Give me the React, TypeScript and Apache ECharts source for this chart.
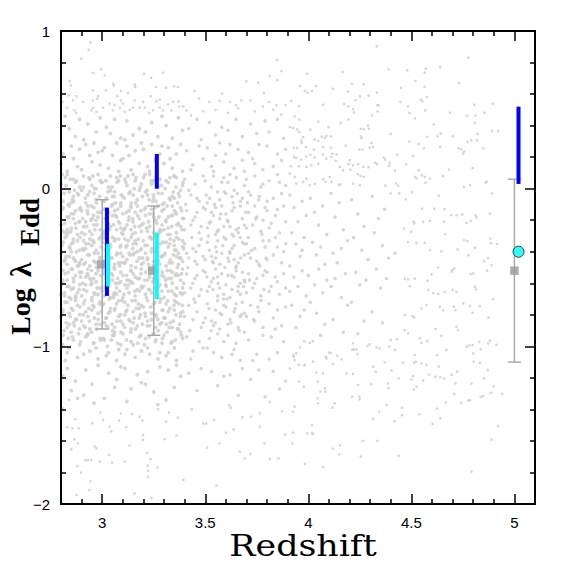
import React, { useEffect, useRef } from "react";
import * as echarts from "echarts";

// ---------- axis ticks ----------
const xMajorTicks = [3, 3.5, 4, 4.5, 5];
const xTickLabels = ["3", "3.5", "4", "4.5", "5"];
const yMajorTicks = [-2, -1, 0, 1];
const yTickLabels = ["\u22122", "\u22121", "0", "1"];

// ---------- gray cloud (redshift, log lambda_Edd) ----------
const cloudUpperLeft = [
  [2.943,.928],[2.934,.881],[2.90,.824],[2.994,.757],[2.955,.734],[3.012,.719],[3.203,.729],[3.295,.736],[3.237,.702],
  [3.847,.816],[3.87,.746],[3.813,.715],[3.85,.687],[3.70,.681],[3.757,.672],[2.842,.683],[2.847,.655],[3.053,.666],
  [3.057,.655],[3.158,.66],[3.16,.645],[3.261,.645],[3.31,.64],[3.349,.649],[3.368,.645],[3.447,.62],[2.955,.624],
  [3.019,.624],[3.091,.62],[3.125,.607],[2.836,.592],[2.875,.586],[2.98,.586],[3.072,.586],[3.234,.586],[3.47,.571],
  [3.582,.603],[3.784,.607],[2.807,.55],[2.858,.56],[2.907,.55],[2.955,.56],[2.975,.57],[3.036,.54],[3.06,.53],
  [3.09,.56],[3.10,.54],[3.157,.56],[3.198,.55],[3.263,.555],[3.279,.565],[3.32,.535],[3.345,.55],[3.37,.553],
  [3.52,.55],[3.57,.556],[3.62,.55],[3.65,.53],[3.675,.56],[3.72,.56],[3.78,.52],[3.81,.55],[3.845,.53],[3.89,.53],
  [2.83,.514],[2.866,.497],[2.874,.48],[2.947,.497],[2.955,.512],[2.972,.487],[3.004,.514],[3.052,.497],[3.085,.514],
  [3.109,.487],[3.134,.50],[3.15,.514],[3.182,.514],[3.206,.514],[3.228,.48],[3.247,.497],[3.279,.514],[3.295,.497],
  [3.336,.497],[3.373,.522],[3.393,.522],[3.409,.497],[3.431,.464],[3.49,.49],[3.55,.5],[3.61,.48],[3.66,.51],
  [3.74,.49],[3.83,.5],[3.87,.47]
];

const cloudLowerLeft = [
  [2.829,-1.513],[2.866,-1.59],[2.85,-1.653],[2.883,-1.615],[2.879,-1.758],[2.897,-1.801],[2.875,-1.942],[2.918,-1.722],
  [2.931,-1.722],[2.947,-1.72],[2.943,-1.856],[2.938,-1.911],[2.964,-1.636],[2.972,-1.647],[2.988,-1.731],[3.032,-1.689],
  [3.048,-1.737],[3.109,-1.731],[3.133,-1.628],[3.156,-1.932],[3.198,-1.562],[3.198,-1.594],[3.218,-1.678],[3.234,-1.716],
  [3.22,-1.756],[3.222,-1.788],[3.222,-1.828],[3.268,-1.769],[3.24,-1.963],[3.303,-1.589],[3.36,-1.566],[3.394,-1.847],
  [3.509,-1.642],[3.554,-1.883],[3.569,-1.615],[3.60,-1.547],[3.638,-1.526],[3.667,-1.668],[3.692,-1.71],[3.719,-1.682],
  [3.764,-1.509],[3.787,-1.615],[3.813,-1.714],[3.855,-1.71],[3.888,-1.558],[3.873,-1.412],[3.49,-1.49],[3.505,-1.49],
  [3.543,-1.467],[3.68,-1.45],[3.722,-1.446],[3.616,-1.374],[3.624,-1.389],[3.764,-1.425],[3.813,-1.353],[2.839,-1.34],
  [2.81,-1.393],[2.87,-1.463],[2.855,-1.52],[2.887,-1.52],[2.952,-1.488],[2.991,-1.42],[3.004,-1.467],[3.036,-1.51],
  [3.044,-1.54],[3.082,-1.471],[3.09,-1.425],[3.117,-1.513],[3.145,-1.429],[3.182,-1.446],[3.195,-1.471],[3.271,-1.399],
  [3.309,-1.478],[3.324,-1.42],[3.368,-1.452],[3.434,-1.399]
];

const cloudUpperRight = [
  [4.332,.903],[4.777,.831],[4.166,.74],[3.994,.729],[4.389,.757],[4.48,.751],[4.565,.736],[4.57,.761],[4.64,.77],
  [4.52,.683],[4.211,.666],[4.268,.662],[3.959,.651],[4.038,.651],[4.119,.634],[3.983,.62],[3.996,.609],[4.018,.62],
  [4.193,.617],[4.332,.609],[4.449,.639],[4.564,.645],[4.732,.67],[4.251,.586],[4.293,.59],[4.229,.56],[4.447,.55],
  [4.546,.565],[4.554,.554],[4.575,.581],[3.918,.556],[3.954,.524],[4.174,.537],[4.195,.522],[4.334,.529],[4.342,.529],
  [4.484,.522],[4.805,.533],[4.895,.539],[4.072,.533],[4.217,.505],[4.222,.484],[4.337,.49],[4.567,.497],[4.491,.48],
  [4.688,.482],[4.771,.463],[4.811,.463],[4.855,.482],[3.934,.459],[3.957,.438],[4.048,.425],[4.098,.391],[4.156,.417],
  [4.195,.438],[4.31,.465],[4.518,.446],[4.808,.417],[4.609,.406],[3.91,.39],[3.926,.385],[3.946,.376],[3.955,.36],
  [4.01,.374],[4.255,.38],[4.27,.378],[4.29,.4],[4.294,.38],[4.40,.347],[4.643,.349],[4.627,.332],[4.701,.332],
  [4.821,.347],[4.891,.366],[4.921,.366],[4.577,.328],[3.975,.327],[3.967,.306],[3.968,.29],[4.031,.311],[4.048,.303],
  [4.064,.33],[4.08,.322],[4.088,.334],[4.109,.332],[4.255,.332],[4.258,.322],[4.263,.248],[4.248,.248],[4.306,.29],
  [4.315,.265],[4.298,.26],[4.182,.273],[4.491,.298],[4.536,.284],[4.56,.256],[4.641,.265],[4.73,.256],[4.743,.25],
  [4.751,.222],[4.756,.235],[4.772,.296],[4.79,.307],[4.819,.307],[4.849,.256],[3.929,.26],[3.946,.258],[3.988,.265],
  [4.028,.248],[4.072,.265],[4.109,.26],[3.942,.195],[3.931,.2],[3.965,.184],[3.991,.205],[4.01,.214],[4.031,.197],
  [4.072,.218],[4.088,.191],[4.112,.201],[4.117,.222],[4.137,.218],[4.133,.176],[4.201,.18],[4.196,.155],[4.217,.148],
  [4.242,.155],[4.266,.138],[4.292,.136],[4.324,.165],[4.334,.155],[4.366,.197],[4.373,.184],[4.431,.216],[4.395,.163],
  [4.392,.144],[4.475,.155],[4.509,.206],[4.683,.121],[4.797,.13],[4.421,.115],[4.535,.117],[3.915,.142],[3.954,.142],
  [3.991,.138],[4.015,.148],[4.048,.159],[4.153,.138],[4.169,.117],[4.205,.121],[4.24,.092],[4.253,.081],[4.269,.075],
  [4.517,.075],[4.525,.066],[4.551,.085],[4.565,.075],[4.59,.064],[4.654,.079],[4.865,.043],[4.785,.022],[4.755,.011],
  [3.91,.096],[3.934,.075],[3.942,.032],[3.975,.043],[3.991,.064],[4.007,.022],[4.031,.032],[4.072,.06],[4.083,.043],
  [4.112,.043],[4.104,.075],[4.156,.026],[4.149,.026],[4.217,.032],[4.25,.022],[4.374,.02],[4.425,.034],[4.436,.02]
];

const cloudMidRight = [
  [4.569,.039],[4.861,.039],[4.892,-.03],[4.504,-.022],[4.633,-.045],[4.399,-.03],[4.441,-.03],[4.473,-.068],
  [4.552,-.126],[4.611,-.126],[4.661,-.13],[4.693,-.168],[4.719,-.168],[4.747,-.164],[4.811,-.17],[4.816,-.183],
  [4.881,-.157],[4.512,-.21],[4.514,-.221],[4.557,-.21],[4.59,-.204],[4.659,-.21],[4.768,-.217],[4.789,-.204],
  [4.465,-.254],[4.50,-.273],[4.664,-.288],[4.756,-.326],[4.772,-.333],[4.884,-.316],[4.886,-.347],[4.916,-.352],
  [4.808,-.375],[4.484,-.339],[4.525,-.343],[4.565,-.343],[4.59,-.39],[4.646,-.398],[4.724,-.385],[4.777,-.423],
  [4.873,-.44],[4.853,-.46],[4.70,-.516],[4.695,-.527],[4.708,-.506],[4.63,-.499],[4.80,-.537],[4.787,-.542],
  [4.889,-.485],[4.868,-.52],[4.578,-.584],[4.598,-.544],[4.517,-.571],[4.468,-.571],[4.484,-.575],[4.493,-.618],
  [4.808,-.622],[4.813,-.639],[4.70,-.643],[4.719,-.654],[4.582,-.643],[4.606,-.664],[4.63,-.668],[4.662,-.654],
  [4.897,-.702],[4.752,-.728],[4.784,-.745],[4.832,-.745],[4.706,-.749],[4.714,-.77],[4.797,-.787],[4.638,-.749],
  [4.654,-.77],[4.573,-.738],[4.549,-.759],[4.468,-.802],[4.505,-.808],[4.514,-.816],[4.874,-.818],[4.617,-.89],
  [4.719,-.876],[4.727,-.897],[4.646,-.932],[4.781,-.994],[4.797,-.992],[4.468,-.897],[4.484,-.918],[4.40,-.96],
  [4.43,-.956],[4.541,-.949],[4.549,-.977],[4.873,-.981],[4.913,-.99]
];

const cloudLowerRight = [
  [3.926,-1.414],[3.934,-1.383],[3.926,-1.547],[3.923,-1.615],[3.983,-1.746],[3.994,-1.552],[4.018,-1.552],[4.023,-1.555],
  [4.018,-1.499],[4.072,-1.765],[4.12,-1.649],[4.153,-1.628],[4.15,-1.685],[4.255,-1.699],[4.266,-1.6],[4.334,-1.6],
  [4.315,-1.461],[4.344,-1.414],[4.379,-1.372],[4.418,-1.475],[4.438,-1.693],[4.455,-1.389],[4.455,-1.437],[4.538,-1.431],
  [4.603,-1.492],[4.625,-1.395],[4.64,-1.456],[4.667,-1.357],[4.792,-1.794],[4.889,-1.592],[4.921,-1.505],[4.887,-1.294],
  [4.90,-1.254],[4.941,-1.302],[4.836,-1.32],[4.849,-1.315],[4.776,-1.345],[4.784,-1.34],[4.742,-1.357],[4.709,-1.302],
  [4.714,-1.235],[4.696,-1.18],[4.722,-1.161],[4.792,-1.237],[4.852,-1.203],[4.871,-1.15],[4.80,-1.044],[4.802,-1.097],
  [4.832,-1.104],[4.768,-1.002],[4.829,-.973],[4.881,-.964],[4.836,-1.019],[4.66,-1.203],[4.64,-1.197],[4.617,-1.193],
  [4.625,-1.057],[4.633,-1.129],[4.67,-1.023],[4.578,-.968],[4.586,-1.178],[4.557,-1.218],[4.525,-1.256],[4.512,-1.273],
  [4.50,-1.21],[4.509,-1.19],[4.517,-1.055],[4.514,-1.104],[4.522,-1.097],[4.549,-1.108],[4.573,-1.118],[4.46,-1.104],
  [4.438,-1.203],[4.387,-1.235],[4.389,-1.266],[4.404,-1.154],[4.371,-1.101],[4.327,-1.161],[4.315,-1.129],[4.305,-1.241],
  [4.347,-1.013],[4.331,-1.007],[4.392,-1.0],[4.42,-1.023],[4.298,-.987],[4.287,-.998],[4.242,-1.245],[4.248,-1.319],
  [4.249,-1.336],[4.213,-1.319],[4.217,-1.175],[4.185,-1.171],[4.234,-1.02],[4.238,-1.05],[4.222,-1.019],[4.214,-1.021],
  [4.217,-.981],[4.161,-1.083],[4.14,-1.059],[4.12,-1.112],[4.117,-1.389],[4.128,-1.361],[4.101,-1.04],[4.109,-1.043],
  [4.085,-1.066],[4.088,-1.076],[4.072,-1.171],[4.08,-1.266],[4.083,-1.287],[4.059,-1.287],[4.044,-1.33],[4.048,-1.361],
  [4.039,-1.167],[4.046,-1.224],[4.023,-1.097],[3.983,-1.118],[3.978,-1.256],[3.955,-1.224],[3.926,-1.055],[3.934,-1.087],
  [3.954,-1.118],[3.98,-1.121],[3.91,-1.14],[3.981,-.968],[4.007,-.977],[4.023,-.968],[3.959,-1.006],[3.942,-1.044],[3.929,-1.065]
];

const cloudStrip28 = [
  [2.82,.46],[2.87,.33],[2.84,.38],[2.89,.44],
  [2.81,.22],[2.85,.27],[2.88,.14],[2.83,.11],[2.86,.19],[2.89,.25],[2.80,.16],
  [2.82,.07],[2.84,-.02],[2.87,.04],[2.81,-.08],[2.86,-.05],[2.89,.01],[2.83,.09],[2.85,-.09],[2.88,-.03],[2.80,.03],[2.86,.06],
  [2.81,-.12],[2.83,-.18],[2.85,-.25],[2.87,-.14],[2.89,-.21],[2.82,-.28],[2.84,-.11],[2.86,-.19],[2.88,-.29],[2.80,-.23],[2.85,-.16],[2.83,-.26],[2.87,-.22],[2.89,-.13],[2.81,-.27],
  [2.82,-.31],[2.84,-.37],[2.86,-.44],[2.88,-.33],[2.80,-.41],[2.83,-.48],[2.85,-.35],[2.87,-.46],[2.89,-.39],[2.81,-.34],[2.84,-.43],[2.86,-.32],[2.88,-.49],[2.82,-.45],[2.85,-.40],[2.89,-.47],
  [2.81,-.52],[2.83,-.58],[2.85,-.64],[2.87,-.55],[2.89,-.61],[2.80,-.67],[2.82,-.54],[2.84,-.69],[2.86,-.57],[2.88,-.66],[2.83,-.62],[2.85,-.51],[2.87,-.68],[2.89,-.53],[2.81,-.60],[2.86,-.63],
  [2.82,-.72],[2.84,-.79],[2.86,-.85],[2.88,-.74],[2.80,-.81],[2.83,-.88],[2.85,-.76],[2.87,-.83],[2.89,-.89],[2.81,-.77],[2.84,-.86],[2.87,-.71],[2.89,-.80],
  [2.81,-.93],[2.84,-1.01],[2.86,-.96],[2.88,-1.07],[2.83,-1.04],[2.85,-.91],[2.89,-.99],[2.82,-1.09],
  [2.83,-1.14],[2.87,-1.22],[2.85,-1.28],[2.81,-1.19],[2.88,-1.33],
  [2.805,.09],[2.845,.06],[2.875,.05],[2.825,.02],[2.865,-.01],[2.815,-.03],[2.885,-.04],[2.855,-.07],[2.835,-.10],[2.895,-.12],
  [2.808,-.13],[2.862,-.16],[2.838,-.18],[2.888,-.21],[2.818,-.22],[2.872,-.25],[2.848,-.27],[2.828,-.30],[2.892,-.31],[2.858,-.34],
  [2.805,-.36],[2.845,-.38],[2.875,-.40],[2.825,-.43],[2.865,-.45],[2.815,-.46],[2.885,-.49],[2.855,-.51],[2.835,-.53],[2.895,-.56],
  [2.808,-.58],[2.862,-.59],[2.838,-.62],[2.888,-.64],[2.818,-.66],[2.872,-.69],[2.848,-.70],[2.828,-.72],[2.892,-.75],[2.858,-.77],
  [2.805,-.79],[2.845,-.81],[2.875,-.83],[2.825,-.85],[2.865,-.87],[2.815,-.90],[2.885,-.92],[2.855,-.94],[2.835,-.95],[2.895,-.97],
  [2.808,-.99],[2.862,-.08],[2.838,-.28],[2.888,-.48],[2.818,-.68]
];

const cloudStrip29 = [
  [2.93,.41],[2.97,.36],[2.91,.31],[2.99,.45],
  [2.92,.28],[2.95,.17],[2.98,.23],[2.90,.12],[2.94,.21],[2.96,.29],[2.99,.15],
  [2.91,.08],[2.93,-.04],[2.95,.02],[2.97,-.07],[2.99,.05],[2.90,-.01],[2.92,-.09],[2.94,.06],[2.96,-.03],[2.98,.09],[2.97,.00],
  [2.90,-.14],[2.92,-.21],[2.94,-.27],[2.96,-.12],[2.98,-.18],[2.91,-.24],[2.93,-.16],[2.95,-.29],[2.97,-.20],[2.99,-.26],[2.90,-.28],[2.93,-.11],[2.96,-.23],[2.98,-.15],[2.95,-.19],
  [2.91,-.33],[2.93,-.42],[2.95,-.36],[2.97,-.47],[2.99,-.31],[2.90,-.45],[2.92,-.38],[2.94,-.49],[2.96,-.34],[2.98,-.41],[2.91,-.48],[2.94,-.32],[2.97,-.39],[2.99,-.44],[2.92,-.35],[2.96,-.46],
  [2.90,-.53],[2.92,-.61],[2.94,-.57],[2.96,-.66],[2.98,-.52],[2.91,-.64],[2.93,-.55],[2.95,-.69],[2.97,-.59],[2.99,-.63],[2.90,-.68],[2.93,-.51],[2.95,-.60],[2.98,-.67],[2.92,-.56],[2.97,-.54],
  [2.91,-.73],[2.93,-.81],[2.95,-.77],[2.97,-.86],[2.99,-.72],[2.90,-.84],[2.92,-.78],[2.94,-.89],[2.96,-.75],[2.98,-.83],[2.91,-.87],[2.95,-.71],[2.98,-.79],
  [2.92,-.94],[2.94,-1.03],[2.96,-.98],[2.98,-1.08],[2.91,-1.05],[2.93,-.92],[2.97,-1.01],[2.99,-.95],
  [2.92,-1.15],[2.95,-1.24],[2.98,-1.12],[2.91,-1.31],[2.96,-1.36],
  [2.955,.08],[2.935,.07],[2.995,.04],[2.908,.01],[2.962,.00],[2.938,-.02],[2.988,-.05],[2.918,-.06],[2.972,-.09],[2.948,-.11],
  [2.928,-.14],[2.992,-.15],[2.958,-.17],[2.905,-.19],[2.945,-.20],[2.975,-.23],[2.925,-.24],[2.965,-.26],[2.915,-.29],[2.985,-.32],
  [2.955,-.33],[2.935,-.35],[2.995,-.37],[2.908,-.39],[2.962,-.41],[2.938,-.42],[2.988,-.44],[2.918,-.47],[2.972,-.50],[2.948,-.52],
  [2.928,-.54],[2.992,-.55],[2.958,-.57],[2.905,-.60],[2.945,-.61],[2.975,-.63],[2.925,-.65],[2.965,-.67],[2.915,-.71],[2.985,-.73],
  [2.955,-.74],[2.935,-.76],[2.995,-.78],[2.908,-.80],[2.962,-.82],[2.938,-.84],[2.988,-.86],[2.918,-.88],[2.972,-.89],[2.948,-.91],
  [2.928,-.93],[2.992,-.96],[2.958,-.98],[2.905,-.38],[2.945,-.58]
];

const cloudStrip30 = [
  [3.02,.39],[3.06,.44],[3.09,.32],[3.04,.35],
  [3.01,.26],[3.03,.13],[3.05,.21],[3.07,.29],[3.09,.18],[3.00,.24],[3.08,.11],
  [3.00,.04],[3.02,-.06],[3.04,.08],[3.06,-.02],[3.08,.05],[3.01,-.08],[3.03,.01],[3.05,-.05],[3.07,.07],[3.09,-.09],[3.04,-.01],
  [3.01,-.13],[3.03,-.22],[3.05,-.17],[3.07,-.26],[3.09,-.11],[3.00,-.29],[3.02,-.19],[3.04,-.24],[3.06,-.14],[3.08,-.21],[3.01,-.27],[3.05,-.10],[3.07,-.18],[3.09,-.25],[3.03,-.15],
  [3.00,-.34],[3.02,-.43],[3.04,-.37],[3.06,-.48],[3.08,-.32],[3.01,-.46],[3.03,-.39],[3.05,-.31],[3.07,-.42],[3.09,-.36],[3.00,-.49],[3.04,-.44],[3.06,-.33],[3.08,-.47],[3.02,-.35],[3.09,-.41],
  [3.01,-.54],[3.03,-.62],[3.05,-.58],[3.07,-.67],[3.09,-.53],[3.00,-.65],[3.02,-.57],[3.04,-.69],[3.06,-.51],[3.08,-.60],[3.01,-.68],[3.05,-.55],[3.07,-.63],[3.09,-.59],[3.03,-.52],[3.06,-.66],
  [3.00,-.74],[3.02,-.82],[3.04,-.76],[3.06,-.88],[3.08,-.71],[3.01,-.85],[3.03,-.79],[3.05,-.90],[3.07,-.73],[3.09,-.84],[3.02,-.87],[3.06,-.77],[3.08,-.81],
  [3.01,-.96],[3.03,-1.04],[3.05,-.93],[3.07,-1.09],[3.09,-.99],[3.02,-1.06],[3.06,-.91],[3.08,-1.02],
  [3.03,-1.17],[3.06,-1.26],[3.09,-1.13],[3.01,-1.33],[3.07,-1.21],
  [3.088,.08],[3.018,.05],[3.072,.04],[3.048,.01],[3.028,-.02],[3.092,-.04],[3.058,-.05],[3.005,-.08],[3.045,-.11],[3.075,-.13],
  [3.025,-.14],[3.065,-.17],[3.015,-.19],[3.085,-.22],[3.055,-.23],[3.035,-.26],[3.095,-.28],[3.008,-.31],[3.062,-.32],[3.038,-.35],
  [3.088,-.37],[3.018,-.39],[3.072,-.41],[3.048,-.44],[3.028,-.46],[3.092,-.47],[3.058,-.50],[3.005,-.52],[3.045,-.54],[3.075,-.57],
  [3.025,-.59],[3.065,-.60],[3.015,-.63],[3.085,-.65],[3.055,-.67],[3.035,-.70],[3.095,-.71],[3.008,-.73],[3.062,-.76],[3.038,-.78],
  [3.088,-.80],[3.018,-.82],[3.072,-.84],[3.048,-.86],[3.028,-.88],[3.092,-.91],[3.058,-.93],[3.005,-.95],[3.045,-.96],[3.075,-.98],
  [3.025,-1.0],[3.065,-.09],[3.015,-.29],[3.085,-.49],[3.055,-.69]
];

const cloudStrip31 = [
  [3.12,.43],[3.15,.34],[3.18,.38],[3.11,.31],
  [3.10,.19],[3.12,.27],[3.14,.12],[3.16,.24],[3.18,.16],[3.19,.29],[3.13,.21],
  [3.11,.06],[3.13,-.03],[3.15,.09],[3.17,-.07],[3.19,.03],[3.10,-.05],[3.12,.02],[3.14,-.09],[3.16,.05],[3.18,-.01],[3.15,-.04],
  [3.10,-.16],[3.12,-.23],[3.14,-.12],[3.16,-.28],[3.18,-.19],[3.11,-.25],[3.13,-.14],[3.15,-.21],[3.17,-.11],[3.19,-.27],[3.10,-.29],[3.13,-.18],[3.16,-.15],[3.18,-.24],[3.14,-.26],
  [3.11,-.32],[3.13,-.41],[3.15,-.35],[3.17,-.46],[3.19,-.38],[3.10,-.43],[3.12,-.36],[3.14,-.49],[3.16,-.33],[3.18,-.44],[3.11,-.47],[3.14,-.31],[3.17,-.40],[3.19,-.48],[3.12,-.45],[3.15,-.42],
  [3.10,-.55],[3.12,-.63],[3.14,-.52],[3.16,-.68],[3.18,-.57],[3.11,-.61],[3.13,-.66],[3.15,-.54],[3.17,-.64],[3.19,-.51],[3.10,-.69],[3.14,-.59],[3.16,-.56],[3.18,-.65],[3.12,-.58],[3.19,-.62],
  [3.11,-.72],[3.13,-.83],[3.15,-.78],[3.17,-.87],[3.19,-.74],[3.10,-.86],[3.12,-.77],[3.14,-.89],[3.16,-.71],[3.18,-.82],[3.11,-.80],[3.15,-.85],[3.18,-.76],
  [3.10,-.92],[3.12,-1.02],[3.14,-.97],[3.16,-1.07],[3.18,-.94],[3.11,-1.05],[3.15,-.99],[3.19,-1.03],
  [3.11,-1.14],[3.14,-1.27],[3.17,-1.18],[3.12,-1.35],[3.19,-1.23],
  [3.125,.08],[3.165,.07],[3.115,.04],[3.185,.01],[3.155,.00],[3.135,-.02],[3.195,-.05],[3.108,-.06],[3.162,-.09],[3.138,-.11],
  [3.188,-.14],[3.118,-.15],[3.172,-.17],[3.148,-.19],[3.128,-.20],[3.192,-.23],[3.158,-.24],[3.105,-.26],[3.145,-.29],[3.175,-.32],
  [3.125,-.33],[3.165,-.35],[3.115,-.37],[3.185,-.39],[3.155,-.41],[3.135,-.42],[3.195,-.44],[3.108,-.47],[3.162,-.50],[3.138,-.52],
  [3.188,-.54],[3.118,-.55],[3.172,-.57],[3.148,-.60],[3.128,-.61],[3.192,-.63],[3.158,-.65],[3.105,-.67],[3.145,-.71],[3.175,-.73],
  [3.125,-.74],[3.165,-.76],[3.115,-.78],[3.185,-.80],[3.155,-.82],[3.135,-.84],[3.195,-.86],[3.108,-.88],[3.162,-.89],[3.138,-.91],
  [3.188,-.93],[3.118,-.96],[3.172,-.98],[3.148,-.38],[3.128,-.58]
];

const cloudStrip32 = [
  [3.21,.36],[3.24,.42],[3.27,.33],[3.29,.46],
  [3.20,.25],[3.22,.14],[3.24,.28],[3.26,.18],[3.28,.22],[3.23,.11],[3.29,.27],
  [3.20,.07],[3.22,-.04],[3.24,.03],[3.26,-.08],[3.28,.06],[3.21,-.02],[3.23,.09],[3.25,-.06],[3.27,.01],[3.29,-.03],[3.25,.05],
  [3.21,-.12],[3.23,-.24],[3.25,-.18],[3.27,-.29],[3.29,-.14],[3.20,-.22],[3.22,-.27],[3.24,-.13],[3.26,-.20],[3.28,-.26],[3.21,-.17],[3.25,-.28],[3.27,-.11],[3.29,-.23],[3.23,-.16],
  [3.20,-.33],[3.22,-.44],[3.24,-.38],[3.26,-.49],[3.28,-.35],[3.21,-.41],[3.23,-.31],[3.25,-.46],[3.27,-.37],[3.29,-.43],[3.20,-.47],[3.24,-.32],[3.26,-.40],[3.28,-.48],[3.22,-.36],[3.27,-.45],
  [3.21,-.53],[3.23,-.64],[3.25,-.57],[3.27,-.69],[3.29,-.55],[3.20,-.62],[3.22,-.58],[3.24,-.66],[3.26,-.52],[3.28,-.61],[3.21,-.67],[3.25,-.51],[3.27,-.60],[3.29,-.65],[3.23,-.56],[3.26,-.63],
  [3.20,-.75],[3.22,-.84],[3.24,-.79],[3.26,-.88],[3.28,-.72],[3.21,-.81],[3.23,-.87],[3.25,-.73],[3.27,-.83],[3.29,-.77],[3.22,-.71],[3.26,-.80],[3.28,-.86],
  [3.21,-.95],[3.23,-1.05],[3.25,-.92],[3.27,-1.08],[3.29,-.98],[3.22,-1.01],[3.26,-.96],[3.28,-1.04],
  [3.22,-1.16],[3.25,-1.29],[3.28,-1.13],[3.21,-1.24],[3.27,-1.37],
  [3.208,.09],[3.262,.06],[3.238,.05],[3.288,.02],[3.218,-.01],[3.272,-.03],[3.248,-.04],[3.228,-.07],[3.292,-.10],[3.258,-.12],
  [3.205,-.13],[3.245,-.16],[3.275,-.18],[3.225,-.21],[3.265,-.22],[3.215,-.25],[3.285,-.27],[3.255,-.30],[3.235,-.31],[3.295,-.34],
  [3.208,-.36],[3.262,-.38],[3.238,-.40],[3.288,-.43],[3.218,-.45],[3.272,-.46],[3.248,-.49],[3.228,-.51],[3.292,-.53],[3.258,-.56],
  [3.205,-.58],[3.245,-.59],[3.275,-.62],[3.225,-.64],[3.265,-.66],[3.215,-.69],[3.285,-.70],[3.255,-.72],[3.235,-.75],[3.295,-.77],
  [3.208,-.79],[3.262,-.81],[3.238,-.83],[3.288,-.85],[3.218,-.87],[3.272,-.90],[3.248,-.92],[3.228,-.94],[3.292,-.95],[3.258,-.97],
  [3.205,-.99],[3.245,-.08],[3.275,-.28],[3.225,-.48],[3.265,-.68]
];

const cloudStrip33 = [
  [3.31,.40],[3.34,.32],[3.37,.45],[3.39,.37],
  [3.30,.16],[3.32,.26],[3.34,.13],[3.36,.22],[3.38,.28],[3.33,.19],[3.39,.11],
  [3.31,.05],[3.33,-.07],[3.35,.08],[3.37,-.03],[3.39,.02],[3.30,-.09],[3.32,.04],[3.34,-.05],[3.36,.07],[3.38,-.01],[3.35,-.06],
  [3.30,-.13],[3.32,-.25],[3.34,-.17],[3.36,-.28],[3.38,-.12],[3.31,-.21],[3.33,-.29],[3.35,-.14],[3.37,-.22],[3.39,-.19],[3.30,-.26],[3.34,-.11],[3.36,-.16],[3.38,-.24],[3.32,-.18],
  [3.31,-.34],[3.33,-.45],[3.35,-.39],[3.37,-.48],[3.39,-.33],[3.30,-.42],[3.32,-.37],[3.34,-.47],[3.36,-.31],[3.38,-.44],[3.31,-.49],[3.35,-.36],[3.37,-.41],[3.39,-.46],[3.33,-.32],[3.36,-.43],
  [3.30,-.56],[3.32,-.65],[3.34,-.53],[3.36,-.68],[3.38,-.58],[3.31,-.62],[3.33,-.52],[3.35,-.67],[3.37,-.55],[3.39,-.63],[3.30,-.69],[3.34,-.60],[3.36,-.54],[3.38,-.66],[3.32,-.57],[3.39,-.51],
  [3.31,-.73],[3.33,-.85],[3.35,-.77],[3.37,-.89],[3.39,-.74],[3.30,-.82],[3.32,-.78],[3.34,-.88],[3.36,-.72],[3.38,-.81],[3.31,-.86],[3.35,-.71],[3.38,-.79],
  [3.30,-.93],[3.32,-1.04],[3.34,-.97],[3.36,-1.09],[3.38,-.91],[3.31,-1.06],[3.35,-1.01],[3.39,-.95],
  [3.32,-1.15],[3.35,-1.26],[3.38,-1.19],[3.31,-1.34],[3.36,-1.12],
  [3.348,.08],[3.328,.07],[3.392,.04],[3.358,.01],[3.305,.00],[3.345,-.02],[3.375,-.05],[3.325,-.06],[3.365,-.09],[3.315,-.11],
  [3.385,-.14],[3.355,-.15],[3.335,-.17],[3.395,-.19],[3.308,-.20],[3.362,-.23],[3.338,-.24],[3.388,-.26],[3.318,-.29],[3.372,-.32],
  [3.348,-.33],[3.328,-.35],[3.392,-.37],[3.358,-.39],[3.305,-.41],[3.345,-.42],[3.375,-.44],[3.325,-.47],[3.365,-.50],[3.315,-.52],
  [3.385,-.54],[3.355,-.55],[3.335,-.57],[3.395,-.60],[3.308,-.61],[3.362,-.63],[3.338,-.65],[3.388,-.67],[3.318,-.71],[3.372,-.73],
  [3.348,-.74],[3.328,-.76],[3.392,-.78],[3.358,-.80],[3.305,-.82],[3.345,-.84],[3.375,-.86],[3.325,-.88],[3.365,-.89],[3.315,-.91],
  [3.385,-.93],[3.355,-.96],[3.335,-.98],[3.395,-.38],[3.308,-.58]
];

const cloudStrip34 = [
  [3.42,.38],[3.46,.44],[3.48,.31],
  [3.41,.24],[3.44,.15],[3.47,.27],[3.49,.19],[3.43,.12],
  [3.40,.06],[3.43,-.04],[3.45,.03],[3.47,-.08],[3.49,.08],[3.42,-.01],[3.46,-.06],
  [3.41,-.14],[3.43,-.23],[3.45,-.18],[3.47,-.28],[3.49,-.12],[3.40,-.26],[3.44,-.20],[3.46,-.15],[3.48,-.24],
  [3.40,-.35],[3.42,-.44],[3.44,-.38],[3.46,-.48],[3.48,-.32],[3.41,-.41],[3.45,-.46],[3.47,-.36],[3.49,-.43],
  [3.41,-.54],[3.43,-.63],[3.45,-.57],[3.47,-.68],[3.49,-.52],[3.40,-.66],[3.44,-.60],[3.46,-.55],[3.48,-.64],
  [3.42,-.74],[3.44,-.83],[3.46,-.78],[3.48,-.88],[3.40,-.81],[3.45,-.72],[3.49,-.85],
  [3.41,-.94],[3.44,-1.03],[3.47,-.97],[3.43,-1.08],[3.49,-1.01],
  [3.42,-1.17],[3.46,-1.28],[3.48,-1.14],
  [3.405,-.10],[3.435,-.31],[3.415,-.50],[3.445,-.70],[3.425,-.90],[3.455,-.40]
];

const cloudStrip35 = [
  [3.52,.42],[3.55,.34],[3.58,.39],
  [3.51,.26],[3.53,.14],[3.55,.21],[3.57,.29],[3.59,.17],[3.54,.11],
  [3.50,.05],[3.52,-.06],[3.54,.08],[3.56,-.02],[3.58,.04],[3.51,-.09],[3.53,.01],[3.57,-.07],[3.59,.07],
  [3.50,-.13],[3.52,-.22],[3.54,-.17],[3.56,-.27],[3.58,-.11],[3.51,-.25],[3.53,-.15],[3.55,-.29],[3.57,-.19],[3.59,-.24],[3.55,-.12],
  [3.51,-.34],[3.53,-.43],[3.55,-.37],[3.57,-.48],[3.59,-.31],[3.50,-.45],[3.52,-.39],[3.54,-.47],[3.56,-.33],[3.58,-.41],[3.55,-.44],
  [3.50,-.53],[3.52,-.62],[3.54,-.57],[3.56,-.68],[3.58,-.54],[3.51,-.65],[3.53,-.59],[3.55,-.51],[3.57,-.63],[3.59,-.67],[3.56,-.56],
  [3.51,-.73],[3.53,-.84],[3.55,-.77],[3.57,-.89],[3.59,-.74],[3.50,-.82],[3.54,-.87],[3.56,-.71],[3.58,-.80],
  [3.52,-.95],[3.54,-1.04],[3.56,-.92],[3.58,-1.07],[3.51,-1.01],[3.59,-.97],
  [3.53,-1.16],[3.56,-1.25],[3.59,-1.19],
  [3.505,-.04],[3.545,-.10],[3.575,-.16],[3.525,-.21],[3.565,-.26],[3.515,-.30],[3.585,-.36],[3.555,-.40],[3.535,-.46],[3.595,-.50],
  [3.508,-.56],[3.562,-.60],[3.538,-.64],[3.588,-.70],[3.518,-.76],[3.572,-.79],[3.548,-.85],[3.528,-.90],[3.592,-.02],[3.558,-.27]
];

const cloudStrip36 = [
  [3.61,.37],[3.65,.44],[3.68,.33],
  [3.60,.22],[3.62,.28],[3.64,.13],[3.66,.25],[3.68,.18],[3.69,.11],
  [3.61,.04],[3.63,-.05],[3.65,.07],[3.67,-.08],[3.69,.02],[3.60,-.03],[3.62,.09],[3.64,-.01],[3.68,-.06],
  [3.60,-.16],[3.62,-.24],[3.64,-.12],[3.66,-.28],[3.68,-.19],[3.61,-.21],[3.63,-.14],[3.65,-.26],[3.67,-.11],[3.69,-.23],[3.63,-.29],
  [3.60,-.32],[3.62,-.41],[3.64,-.36],[3.66,-.47],[3.68,-.34],[3.61,-.44],[3.63,-.38],[3.65,-.49],[3.67,-.31],[3.69,-.42],[3.64,-.45],
  [3.61,-.55],[3.63,-.64],[3.65,-.52],[3.67,-.67],[3.69,-.58],[3.60,-.61],[3.62,-.69],[3.64,-.56],[3.66,-.62],[3.68,-.53],[3.67,-.60],
  [3.60,-.75],[3.62,-.83],[3.64,-.78],[3.66,-.88],[3.68,-.72],[3.61,-.86],[3.65,-.73],[3.67,-.81],[3.69,-.79],
  [3.61,-.93],[3.63,-1.05],[3.65,-.98],[3.67,-1.09],[3.69,-.91],[3.64,-1.02],
  [3.62,-1.18],[3.66,-1.31],[3.68,-1.14],
  [3.655,-.03],[3.635,-.09],[3.695,-.15],[3.608,-.20],[3.662,-.25],[3.638,-.30],[3.688,-.35],[3.618,-.40],[3.672,-.44],[3.648,-.50],
  [3.628,-.55],[3.692,-.59],[3.658,-.65],[3.605,-.70],[3.645,-.76],[3.675,-.80],[3.625,-.85],[3.665,-.90],[3.615,-.46],[3.685,-.62]
];

const cloudStrip37 = [
  [3.72,.41],[3.75,.35],[3.79,.43],
  [3.71,.23],[3.74,.16],[3.76,.28],[3.78,.12],[3.73,.19],
  [3.70,.06],[3.72,-.04],[3.74,.08],[3.76,-.07],[3.78,.03],[3.71,-.02],[3.77,.01],
  [3.71,-.15],[3.73,-.23],[3.75,-.18],[3.77,-.27],[3.79,-.12],[3.70,-.25],[3.74,-.11],[3.78,-.20],
  [3.70,-.35],[3.72,-.44],[3.74,-.38],[3.76,-.48],[3.78,-.33],[3.71,-.41],[3.75,-.46],[3.79,-.37],
  [3.71,-.54],[3.73,-.63],[3.75,-.57],[3.77,-.68],[3.79,-.52],[3.70,-.66],[3.74,-.60],[3.78,-.55],
  [3.72,-.74],[3.74,-.84],[3.76,-.78],[3.78,-.88],[3.70,-.81],[3.77,-.71],
  [3.71,-.96],[3.75,-1.05],[3.78,-.93],[3.73,-1.09],
  [3.72,-1.21],[3.76,-1.15],[3.79,-1.32],
  [3.705,-.09],[3.745,-.19],[3.775,-.29],[3.725,-.39],[3.765,-.49],[3.715,-.58],[3.785,-.64],[3.755,-.75],[3.735,-.83],[3.795,-.44],
  [3.708,-.31],[3.762,-.05]
];

const cloudStrip38 = [
  [3.81,.36],[3.85,.44],[3.88,.32],
  [3.80,.27],[3.83,.14],[3.85,.22],[3.87,.18],[3.89,.25],
  [3.81,.05],[3.83,-.06],[3.85,.09],[3.87,-.03],[3.89,.02],[3.80,-.08],[3.86,.04],
  [3.80,-.14],[3.82,-.22],[3.84,-.17],[3.86,-.28],[3.88,-.11],[3.81,-.25],[3.85,-.13],[3.89,-.21],
  [3.81,-.33],[3.83,-.42],[3.85,-.37],[3.87,-.47],[3.89,-.35],[3.80,-.45],[3.84,-.31],[3.88,-.40],
  [3.80,-.53],[3.82,-.62],[3.84,-.56],[3.86,-.67],[3.88,-.54],[3.81,-.65],[3.85,-.59],[3.89,-.63],
  [3.81,-.73],[3.83,-.82],[3.85,-.77],[3.87,-.87],[3.89,-.75],[3.84,-.89],
  [3.82,-.94],[3.85,-1.04],[3.88,-.97],[3.81,-1.08],
  [3.83,-1.16],[3.86,-1.27],[3.89,-1.22]
];

const cloudStrip39to44 = [
  [3.91,-.04],[3.93,-.12],[3.95,-.21],[3.97,-.08],[3.99,-.17],[3.92,-.28],[3.94,-.35],[3.96,-.43],[3.98,-.31],[3.91,-.49],
  [3.93,-.56],[3.95,-.62],[3.97,-.52],[3.99,-.68],[3.92,-.74],[3.96,-.81],[3.98,-.77],[3.94,-.88],[3.91,-.65],[3.97,-.39],
  [4.01,-.06],[4.03,-.15],[4.05,-.23],[4.07,-.11],[4.09,-.29],[4.02,-.34],[4.04,-.42],[4.06,-.37],[4.08,-.48],[4.00,-.55],
  [4.03,-.61],[4.05,-.51],[4.07,-.66],[4.09,-.58],[4.01,-.72],[4.04,-.79],[4.08,-.86],[4.06,-.93],
  [4.11,-.03],[4.13,-.18],[4.15,-.09],[4.17,-.26],[4.19,-.33],[4.12,-.41],[4.14,-.47],[4.16,-.38],[4.18,-.54],[4.11,-.62],
  [4.13,-.57],[4.16,-.69],[4.19,-.74],[4.12,-.83],[4.17,-.91],
  [4.21,-.07],[4.24,-.16],[4.27,-.24],[4.22,-.31],[4.26,-.39],[4.29,-.45],[4.23,-.53],[4.25,-.61],[4.28,-.58],[4.21,-.72],
  [4.27,-.84],[4.24,-.92],
  [4.31,-.05],[4.34,-.19],[4.37,-.13],[4.32,-.28],[4.36,-.36],[4.39,-.44],[4.33,-.51],[4.35,-.63],[4.38,-.57],[4.31,-.78],
  [4.36,-.85],[4.42,-.41]
];

// ---------- sample measurements ----------
// [redshift, low, high]
const grayErrorBars = [
  [3.0, -0.89, -0.07],
  [3.25, -0.93, -0.11],
  [5.0, -1.10, 0.06],
];
const graySquares = [
  [2.995, -0.48],
  [3.243, -0.52],
  [5.0, -0.52],
];
const blueRanges = [
  [3.023, -0.68, -0.12],
  [3.265, 0.0, 0.22],
  [5.02, 0.03, 0.52],
];
const cyanRanges = [
  [3.028, -0.62, -0.35],
  [3.265, -0.70, -0.28],
];
const cyanPoints = [[5.02, -0.40]];

const cloudSparse = [
  ...cloudUpperLeft, ...cloudLowerLeft, ...cloudUpperRight, ...cloudMidRight, ...cloudLowerRight,
];
const cloudCore = [
  ...cloudStrip28, ...cloudStrip29, ...cloudStrip30, ...cloudStrip31, ...cloudStrip32, ...cloudStrip33,
];
const cloudShoulder = [
  ...cloudStrip34, ...cloudStrip35, ...cloudStrip36, ...cloudStrip37, ...cloudStrip38, ...cloudStrip39to44,
];

const fmtX = (v: number) => {
  const i = xMajorTicks.findIndex((t) => Math.abs(t - v) < 1e-6);
  return i >= 0 ? xTickLabels[i] : "";
};
const fmtY = (v: number) => {
  const i = yMajorTicks.findIndex((t) => Math.abs(t - v) < 1e-6);
  return i >= 0 ? yTickLabels[i] : "";
};

export default function App() {
  const ref = useRef<HTMLDivElement>(null);
  useEffect(() => {
    document.body.style.margin = "0";
    const chart = echarts.init(ref.current as HTMLDivElement, undefined, { renderer: "svg" });

    const lineStyle = { color: "#000", width: 1.5 };
    const xBase = (position: string, showLabel: boolean) => ({
      type: "value",
      position,
      min: 2.8,
      max: 5.1,
      splitNumber: 5,
      splitLine: { show: false },
      axisLine: { show: true, onZero: false, lineStyle: { color: "#000", width: 2 } },
      axisTick: { show: true, inside: true, length: 10, lineStyle },
      minorTick: { show: true, splitNumber: 5, length: 5, lineStyle },
      minorSplitLine: { show: false },
      axisLabel: {
        show: showLabel,
        showMinLabel: false,
        showMaxLabel: false,
        formatter: fmtX,
        color: "#000",
        fontSize: 15,
        fontFamily: "Liberation Sans",
        margin: 11,
      },
      z: 10,
    });
    const yBase = (position: string, showLabel: boolean) => ({
      type: "value",
      position,
      min: -2,
      max: 1,
      interval: 1,
      splitLine: { show: false },
      axisLine: { show: true, onZero: false, lineStyle: { color: "#000", width: 2 } },
      axisTick: { show: true, inside: true, length: 10, lineStyle },
      minorTick: { show: true, splitNumber: 5, length: 5, lineStyle },
      minorSplitLine: { show: false },
      axisLabel: {
        show: showLabel,
        formatter: fmtY,
        color: "#000",
        fontSize: 15,
        fontFamily: "Liberation Sans",
        margin: 11,
      },
      z: 10,
    });

    const rangeBar = (color: string, width: number) => (params: any, api: any) => {
      const x = api.value(0);
      const lo = api.coord([x, api.value(1)]);
      const hi = api.coord([x, api.value(2)]);
      return {
        type: "rect",
        shape: { x: lo[0] - width / 2, y: hi[1], width, height: lo[1] - hi[1] },
        style: { fill: color },
      };
    };

    const dotStyle = { color: "#cccccc" };

    const option: any = {
      animation: false,
      backgroundColor: "#fff",
      grid: { left: 61, right: 30, top: 31, bottom: 61, containLabel: false },
      xAxis: [xBase("bottom", true), xBase("top", false)],
      yAxis: [yBase("left", true), yBase("right", false)],
      series: [
        { type: "scatter", data: cloudSparse, symbol: "circle", symbolSize: 2.7, itemStyle: dotStyle, silent: true, z: 1 },
        { type: "scatter", data: cloudShoulder, symbol: "circle", symbolSize: 3.5, itemStyle: dotStyle, silent: true, z: 1 },
        { type: "scatter", data: cloudCore, symbol: "circle", symbolSize: 3.9, itemStyle: dotStyle, silent: true, z: 1 },
        {
          type: "custom",
          data: grayErrorBars,
          encode: { x: 0, y: [1, 2] },
          silent: true,
          z: 4,
          renderItem: (params: any, api: any) => {
            const x = api.value(0);
            const lo = api.coord([x, api.value(1)]);
            const hi = api.coord([x, api.value(2)]);
            const w = 6.5;
            const st = { stroke: "#aaaaaa", lineWidth: 1.5 };
            return {
              type: "group",
              children: [
                { type: "line", shape: { x1: lo[0], y1: lo[1], x2: hi[0], y2: hi[1] }, style: st },
                { type: "line", shape: { x1: lo[0] - w, y1: lo[1], x2: lo[0] + w, y2: lo[1] }, style: st },
                { type: "line", shape: { x1: hi[0] - w, y1: hi[1], x2: hi[0] + w, y2: hi[1] }, style: st },
              ],
            };
          },
        },
        {
          type: "scatter",
          data: graySquares,
          symbol: "rect",
          symbolSize: 8.5,
          itemStyle: { color: "#999999" },
          silent: true,
          z: 5,
        },
        {
          type: "custom",
          data: blueRanges,
          encode: { x: 0, y: [1, 2] },
          silent: true,
          z: 6,
          renderItem: rangeBar("#0000ff", 4),
        },
        {
          type: "custom",
          data: cyanRanges,
          encode: { x: 0, y: [1, 2] },
          silent: true,
          z: 7,
          renderItem: rangeBar("#00ffff", 4),
        },
        {
          type: "scatter",
          data: cyanPoints,
          symbol: "circle",
          symbolSize: 11,
          itemStyle: { color: "#00ffff", borderColor: "#1a1a1a", borderWidth: 1 },
          silent: true,
          z: 8,
        },
      ],
      graphic: [
        {
          type: "text",
          x: 303,
          y: 546,
          scaleX: 1.2,
          style: {
            text: "Redshift",
            fontSize: 29,
            fontFamily: "DejaVu Serif",
            fill: "#000",
            textAlign: "center",
            textVerticalAlign: "middle",
            align: "center",
            verticalAlign: "middle",
          },
        },
        {
          type: "group",
          x: 20,
          y: 268,
          rotation: Math.PI / 2,
          children: [
            {
              type: "text",
              x: -67,
              y: 0,
              style: {
                text: "Log",
                fontSize: 28,
                fontWeight: "bold",
                fontFamily: "Liberation Serif",
                fill: "#000",
                textAlign: "left",
                textVerticalAlign: "middle",
                align: "left",
                verticalAlign: "middle",
              },
            },
            {
              type: "text",
              x: -9,
              y: 0,
              style: {
                text: "\u03bb",
                fontSize: 30,
                fontWeight: "bold",
                fontFamily: "Liberation Serif",
                fill: "#000",
                textAlign: "left",
                textVerticalAlign: "middle",
                align: "left",
                verticalAlign: "middle",
              },
            },
            {
              type: "text",
              x: 22,
              y: 10,
              style: {
                text: "Edd",
                fontSize: 27,
                fontWeight: "bold",
                fontFamily: "Liberation Serif",
                fill: "#000",
                textAlign: "left",
                textVerticalAlign: "middle",
                align: "left",
                verticalAlign: "middle",
              },
            },
          ],
        },
      ],
    };
    chart.setOption(option);
    return () => chart.dispose();
  }, []);
  return <div ref={ref} style={{ width: 565, height: 565 }} />;
}
